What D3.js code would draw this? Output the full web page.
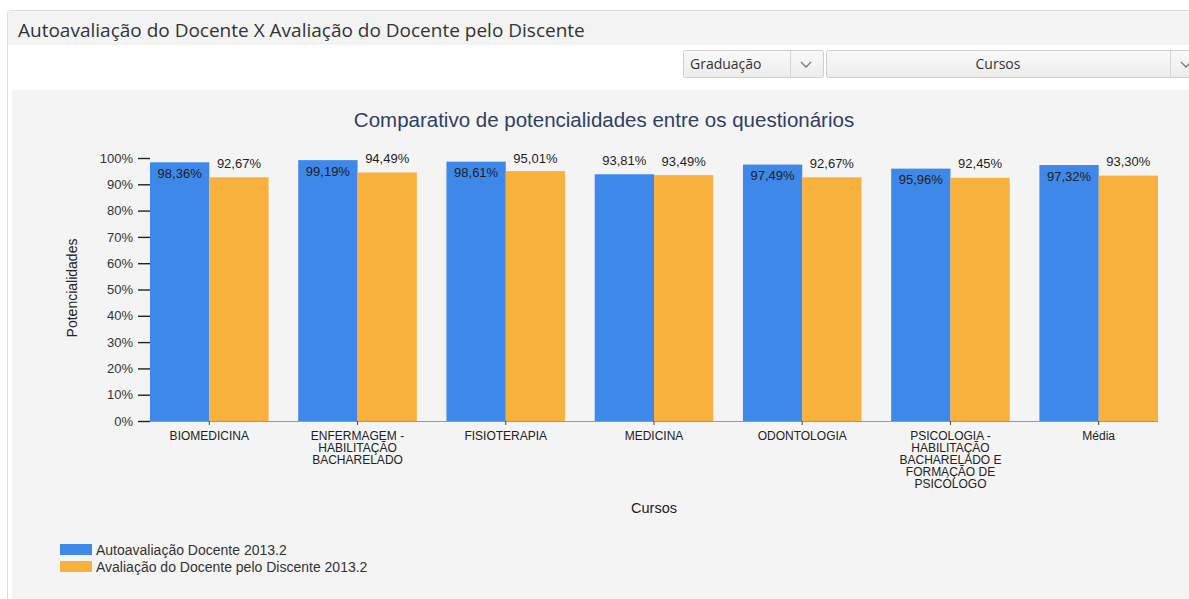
<!DOCTYPE html>
<html><head><meta charset="utf-8">
<script src="https://cdn.jsdelivr.net/npm/d3@7"></script>
<style>
html,body{margin:0;padding:0;background:#fff;overflow:hidden;}
svg{display:block;}
</style></head>
<body>
<svg id="chart" width="1189" height="599"></svg>
<script>
const categories = ["BIOMEDICINA","ENFERMAGEM - HABILITAÇÃO BACHARELADO","FISIOTERAPIA","MEDICINA","ODONTOLOGIA","PSICOLOGIA - HABILITAÇÃO BACHARELADO E FORMAÇÃO DE PSICÓLOGO","Média"];
const seriesNames = ["Autoavaliação Docente 2013.2","Avaliação do Docente pelo Discente 2013.2"];
const autoavaliacao = [98.36, 99.19, 98.61, 93.81, 97.49, 95.96, 97.32];
const avaliacaoDiscente = [92.67, 94.49, 95.01, 93.49, 92.67, 92.45, 93.30];
const yTicks = [0,10,20,30,40,50,60,70,80,90,100];
const colors = ["#3d88e8","#f9b13e"];

const svg = d3.select("#chart");
// Panel frame
svg.append("rect").attr("x",7.5).attr("y",10.5).attr("width",1190).attr("height",600).attr("rx",3)
  .attr("fill","#fff").attr("stroke","#dcdcdc");
svg.append("rect").attr("x",8).attr("y",11).attr("width",1181).attr("height",34).attr("fill","#f3f3f3");
svg.append("text").attr("x",18).attr("y",37).attr("font-family","Open Sans").attr("font-size",19)
  .attr("fill","#333").text("Autoavaliação do Docente X Avaliação do Docente pelo Discente");

// Dropdowns
const grad = svg.append("defs").append("linearGradient").attr("id","btn").attr("x1",0).attr("x2",0).attr("y1",0).attr("y2",1);
grad.append("stop").attr("offset","0").attr("stop-color","#fafafa");
grad.append("stop").attr("offset","1").attr("stop-color","#ececec");
function dropdown(x0,x1,div,label,center){
  svg.append("rect").attr("x",x0+0.5).attr("y",50.5).attr("width",x1-x0).attr("height",27).attr("rx",2)
    .attr("fill","url(#btn)").attr("stroke","#cfcfcf");
  svg.append("line").attr("x1",div+0.5).attr("x2",div+0.5).attr("y1",51).attr("y2",77).attr("stroke","#d6d6d6");
  svg.append("text").attr("x",center?(x0+div)/2:x0+7).attr("y",69).attr("text-anchor",center?"middle":"start")
    .attr("font-family","Open Sans").attr("font-size",14).attr("fill","#333").text(label);
  const cx = div+16;
  svg.append("path").attr("d",`M${cx-5},62 L${cx},67 L${cx+5},62`).attr("fill","none").attr("stroke","#777").attr("stroke-width",1.3);
}
dropdown(683,823,790,"Graduação",false);
dropdown(826,1200,1170,"Cursos",true);

// Chart area
svg.append("rect").attr("x",12).attr("y",90).attr("width",1177).attr("height",509).attr("fill","#f4f4f4");

svg.append("text").attr("x",604).attr("y",127).attr("text-anchor","middle").attr("font-family","Liberation Sans, Arial")
  .attr("font-size",20.5).attr("fill","#2e4063").text("Comparativo de potencialidades entre os questionários");

const x0 = d3.scaleBand().domain(categories).range([150,1158]).paddingInner(0.2).paddingOuter(0);
const x1 = d3.scaleBand().domain([0,1]).range([0,x0.bandwidth()]);
const y = d3.scaleLinear().domain([0,100]).range([421,158]);

const data = categories.map((c,i)=>({cat:c, vals:[autoavaliacao[i], avaliacaoDiscente[i]]}));
const fmt = v => d3.format(".2f")(v).replace(".",",")+"%";

const g = svg.append("g");
const groups = g.selectAll("g.grp").data(data).join("g").attr("transform",d=>`translate(${x0(d.cat)},0)`);
groups.selectAll("rect").data(d=>d.vals.map((v,k)=>({v,k}))).join("rect")
  .attr("x",d=>x1(d.k)).attr("width",x1.bandwidth())
  .attr("y",d=>y(d.v)).attr("height",d=>y(0)-y(d.v)).attr("fill",d=>colors[d.k]);
groups.selectAll("text.lbl").data(d=>d.vals.map((v,k)=>({v,k}))).join("text").attr("class","lbl")
  .attr("x",d=>x1(d.k)+x1.bandwidth()/2)
  .attr("y",d=>{const t=y(d.v); const above=t-14; return (above<155? t+11 : Math.max(above,158))+4.5;})
  .attr("text-anchor","middle").attr("font-family","Liberation Sans, Arial").attr("font-size",13)
  .attr("fill","#1e1e1e").text(d=>fmt(d.v));

// Y axis
const yAxis = d3.axisLeft(y).tickValues(yTicks).tickFormat(d=>d+"%").tickSize(12).tickPadding(5);
const ya = svg.append("g").attr("transform","translate(150,0)").call(yAxis);
ya.select(".domain").remove();
ya.selectAll("line").attr("stroke","#222").attr("stroke-width",1.4);
ya.selectAll("text").attr("font-family","Liberation Sans, Arial").attr("font-size",13).attr("fill","#333");

// X axis
const xAxis = d3.axisBottom(x0).tickSize(4).tickPadding(6);
const xa = svg.append("g").attr("transform","translate(0,421)").call(xAxis);
xa.select(".domain").attr("d","M150,0.5H1158").attr("stroke","#999");
xa.selectAll("line").attr("stroke","#444");
xa.selectAll("text").attr("font-family","Liberation Sans, Arial").attr("font-size",12).attr("fill","#222")
  .each(function(d){
    const t = d3.select(this); const words = d.split(" "); t.text(null);
    let lines=[], cur="";
    const ctx = document.createElement("canvas").getContext("2d"); ctx.font="12px 'Liberation Sans'";
    words.forEach(w=>{const test=cur?cur+" "+w:w; if(ctx.measureText(test).width>104 && cur){lines.push(cur);cur=w;} else cur=test;});
    lines.push(cur);
    lines.forEach((l,i)=>t.append("tspan").attr("x",0).attr("dy",i===0?"0.71em":"12px").text(l));
  });

// Axis titles
svg.append("text").attr("transform","translate(77,288) rotate(-90)").attr("text-anchor","middle")
  .attr("font-family","Liberation Sans, Arial").attr("font-size",14).attr("fill","#222").text("Potencialidades");
svg.append("text").attr("x",654).attr("y",513).attr("text-anchor","middle")
  .attr("font-family","Liberation Sans, Arial").attr("font-size",14.5).attr("fill","#222").text("Cursos");

// Legend
const leg = svg.append("g").attr("transform","translate(60,544)");
seriesNames.forEach((s,i)=>{
  leg.append("rect").attr("x",0).attr("y",i*17).attr("width",32).attr("height",11).attr("fill",colors[i]);
  leg.append("text").attr("x",36).attr("y",i*17+10.5).attr("font-family","Liberation Sans, Arial").attr("font-size",14)
    .attr("fill","#333").text(s);
});
</script>
</body></html>
